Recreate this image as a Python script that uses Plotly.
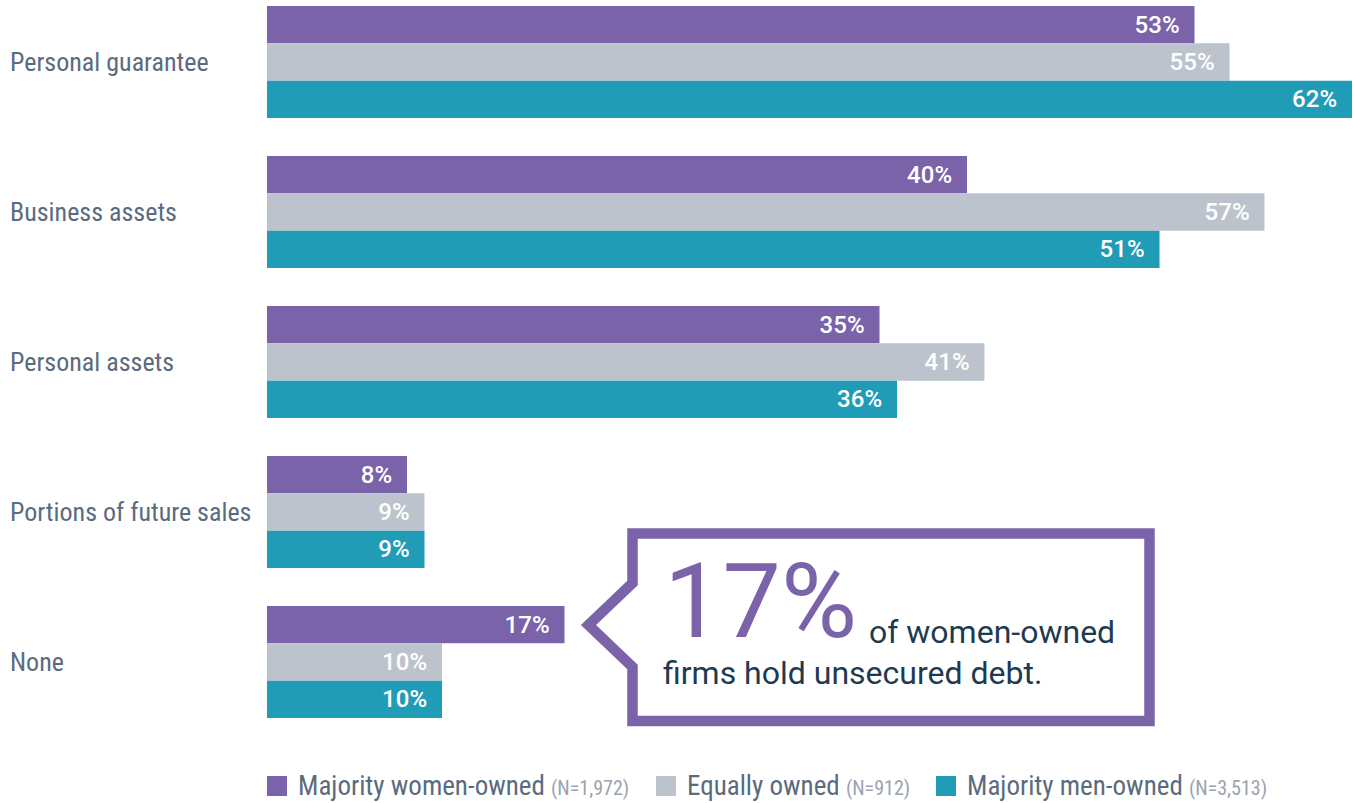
import plotly.graph_objects as go

# collateral categories, top to bottom
categories = ['Personal guarantee', 'Business assets', 'Personal assets',
              'Portions of future sales', 'None']

series_names = ['Majority women-owned', 'Equally owned', 'Majority men-owned']
series_n = ['(N=1,972)', '(N=912)', '(N=3,513)']
women_owned = [53, 40, 35, 8, 17]
equally_owned = [55, 57, 41, 9, 10]
men_owned = [62, 51, 36, 9, 10]

colors = ['#7b63aa', '#bdc3cc', '#219cb7']
label_font = 'Roboto Condensed, Liberation Sans Narrow, Roboto, sans-serif'
label_color = '#5b6b7e'

# plot area in pixels (used to place the callout / legend)
W, H = 1353, 803
L, R, T, B = 267, 1, 0, 63
PW, PH = W - L - R, H - T - B


def px_x(p):
    return (p - L) / PW


def px_y(p):
    return 1 - (p - T) / PH


fig = go.Figure()
for name, vals, col in zip(series_names, [women_owned, equally_owned, men_owned], colors):
    fig.add_trace(go.Bar(
        y=categories, x=vals, name=name, orientation='h',
        marker=dict(color=col, line=dict(width=0)),
        text=[f'{v}%\u00a0\u00a0' for v in vals],
        textposition='inside', insidetextanchor='end', textangle=0,
        textfont=dict(family='Roboto', size=24, color='white', weight=500),
        showlegend=False,
    ))

# category labels, left aligned
annotations = []
for c in categories:
    annotations.append(dict(x=px_x(8), y=c, xref='paper', yref='y', text=c,
                            showarrow=False, xanchor='left', yanchor='middle',
                            font=dict(family=label_font, size=26, color=label_color)))

# legend drawn by hand (bigger squares than plotly's bar symbols)
shapes = []
legend_sq_x = [267, 656, 936]
legend_y = 786
for name, n, col, sx in zip(series_names, series_n, colors, legend_sq_x):
    shapes.append(dict(type='rect', xref='paper', yref='paper',
                       x0=px_x(sx), x1=px_x(sx + 20), y0=px_y(legend_y - 10), y1=px_y(legend_y + 10),
                       fillcolor=col, line=dict(width=0)))
    annotations.append(dict(x=px_x(sx + 29), y=px_y(legend_y), xref='paper', yref='paper',
                            text=f"{name} <span style='font-size:20px;color:#9aa3ae'>{n}</span>",
                            showarrow=False, xanchor='left', yanchor='middle',
                            font=dict(family=label_font, size=27, color=label_color)))

# callout box with arrow
pts = [(632.5, 533.5), (1149.5, 533.5), (1149.5, 721), (632.5, 721),
       (632.5, 667), (588.5, 625), (632.5, 583)]
path = 'M ' + ' L '.join(f'{px_x(a):.5f},{px_y(b):.5f}' for a, b in pts) + ' Z'
shapes.append(dict(type='path', xref='paper', yref='paper', path=path,
                   fillcolor='white', line=dict(color='#7b63aa', width=10.5), layer='above'))

annotations.append(dict(x=px_x(662), y=px_y(642), xref='paper', yref='paper', text='17%',
                        showarrow=False, xanchor='left', yanchor='bottom', yshift=-22,
                        font=dict(family='Roboto', size=104, color='#7b63aa')))
annotations.append(dict(x=px_x(867), y=px_y(645), xref='paper', yref='paper', text='of women-owned',
                        showarrow=False, xanchor='left', yanchor='bottom', yshift=-8,
                        font=dict(family='Roboto', size=32, color='#1e3a50')))
annotations.append(dict(x=px_x(661), y=px_y(686), xref='paper', yref='paper',
                        text='firms hold unsecured debt.',
                        showarrow=False, xanchor='left', yanchor='bottom', yshift=-8,
                        font=dict(family='Roboto', size=32, color='#1e3a50')))

fig.update_layout(
    width=W, height=H,
    margin=dict(l=L, r=R, t=T, b=B),
    barmode='group', bargap=38 / 150, bargroupgap=0,
    plot_bgcolor='white', paper_bgcolor='white',
    xaxis=dict(range=[0, 62], visible=False, fixedrange=True),
    yaxis=dict(range=[(PH - 62) / 150, -62 / 150], type='category',
               categoryorder='array', categoryarray=categories,
               showticklabels=False, showgrid=False, zeroline=False, fixedrange=True),
    shapes=shapes, annotations=annotations,
)

# drop the page's default 8px body margin so the figure fills the window
fig.write_html('out.html', config={'displayModeBar': False},
               post_script="document.body.style.margin = '0';")
